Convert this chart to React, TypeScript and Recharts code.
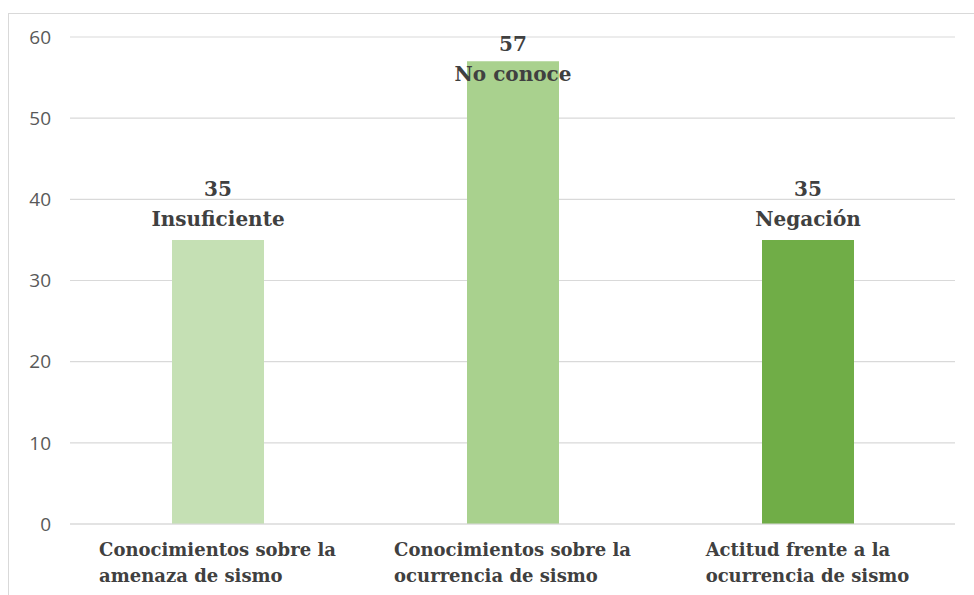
import { BarChart, Bar, XAxis, YAxis, CartesianGrid, Cell, LabelList } from 'recharts'

const categories = [
  'Conocimientos sobre la|amenaza de sismo',
  'Conocimientos sobre la|ocurrencia de sismo',
  'Actitud frente a la|ocurrencia de sismo',
]
const values = [35, 57, 35]
const levels = ['Insuficiente', 'No conoce', 'Negación']
const barColors = ['#c5e0b4', '#a9d18e', '#70ad47']
const yTicks = [0, 10, 20, 30, 40, 50, 60]

const data = categories.map((name, i) => ({ name, value: values[i], level: levels[i] }))

const SERIF = '"DejaVu Serif", "Liberation Serif", serif'
const PLOT_TOP = 23

// measure text width so the wrapped label block can be centred while its lines stay left aligned
let ctx: CanvasRenderingContext2D | null = null
const measure = (text: string, font: string) => {
  if (!ctx) ctx = document.createElement('canvas').getContext('2d')
  if (!ctx) return text.length * 10
  ctx.font = font
  return ctx.measureText(text).width
}

const CategoryTick = (props: { x?: number; y?: number; payload?: { value: string } }) => {
  const { x = 0, y = 0, payload } = props
  const lines = (payload?.value ?? '').split('|')
  const font = `bold 18px ${SERIF}`
  const widest = Math.max(...lines.map((l) => measure(l, font)))
  const left = x - widest / 2
  return (
    <text x={left} y={y} fill="#404040" fontFamily={SERIF} fontWeight="bold" fontSize={18} textAnchor="start">
      {lines.map((l, i) => (
        <tspan key={i} x={left} dy={i === 0 ? 24 : 26}>
          {l}
        </tspan>
      ))}
    </text>
  )
}

const renderBarLabel = (props: {
  x?: number | string
  y?: number | string
  width?: number | string
  value?: number | string
  index?: number
}) => {
  const x = Number(props.x ?? 0)
  const y = Number(props.y ?? 0)
  const width = Number(props.width ?? 0)
  const index = props.index ?? 0
  // Excel keeps the label block inside the plot area, so clamp it to the top
  const top = Math.max(y - 60, PLOT_TOP - 2)
  const cx = x + width / 2
  return (
    <g>
      <text x={cx} y={top + 9} textAnchor="middle" dominantBaseline="central" fill="#404040"
        fontFamily={SERIF} fontWeight="bold" fontSize={20}>
        {props.value}
      </text>
      <text x={cx} y={top + 39} textAnchor="middle" dominantBaseline="central" fill="#404040"
        fontFamily={SERIF} fontWeight="bold" fontSize={20}>
        {levels[index]}
      </text>
    </g>
  )
}

export default function App() {
  return (
    <div
      style={{
        position: 'absolute',
        left: 8,
        top: 13,
        width: 966,
        height: 582,
        overflow: 'hidden',
        borderTop: '1px solid #d9d9d9',
        borderLeft: '1px solid #d9d9d9',
        background: '#fff',
      }}
    >
      <BarChart
        width={965}
        height={581}
        data={data}
        margin={{ top: PLOT_TOP, right: 19, bottom: 11, left: 21 }}
      >
        <CartesianGrid vertical={false} stroke="#d9d9d9" strokeWidth={1.2} />
        <XAxis
          dataKey="name"
          height={60}
          axisLine={{ stroke: '#d9d9d9', strokeWidth: 1.2 }}
          tickLine={false}
          interval={0}
          tick={<CategoryTick />}
        />
        <YAxis
          width={40}
          domain={[0, 60]}
          ticks={yTicks}
          axisLine={false}
          tickLine={false}
          tickSize={0}
          tickMargin={19}
          tick={{ fill: '#595959', fontSize: 19, fontFamily: '"Open Sans", "Liberation Sans", sans-serif' }}
        />
        <Bar dataKey="value" barSize={92} isAnimationActive={false}>
          {data.map((_, i) => (
            <Cell key={`cell-${i}`} fill={barColors[i]} />
          ))}
          <LabelList dataKey="value" content={renderBarLabel} />
        </Bar>
      </BarChart>
    </div>
  )
}
